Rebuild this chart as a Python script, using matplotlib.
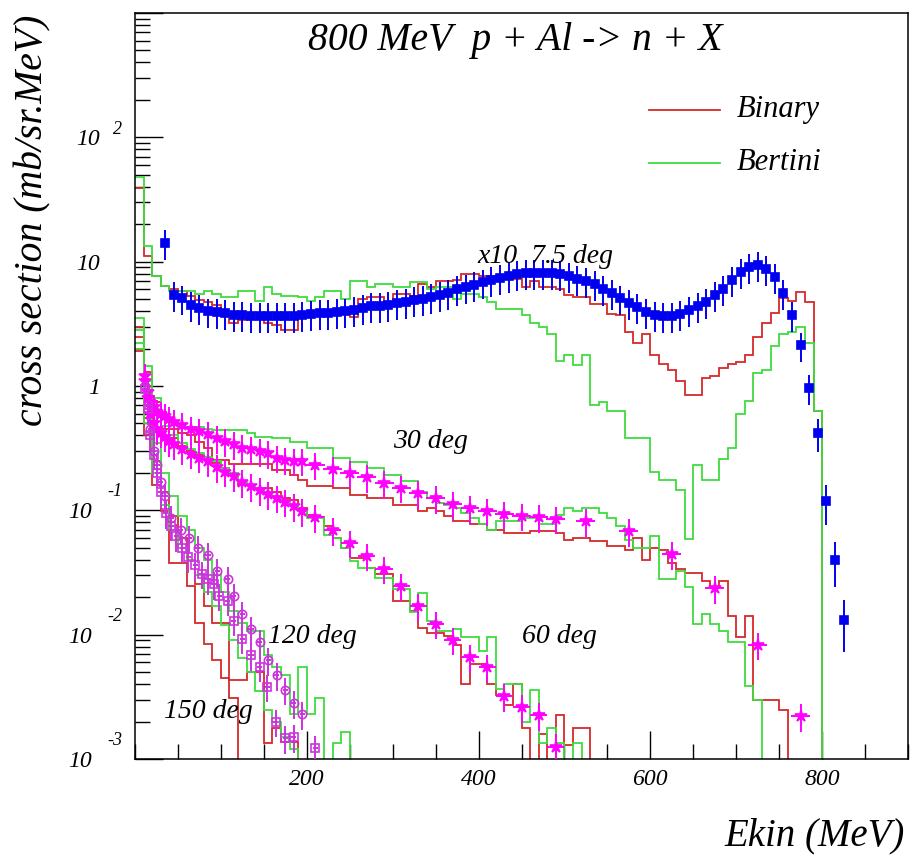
import numpy as np
import matplotlib.pyplot as plt
from matplotlib.ticker import FixedLocator, MultipleLocator, LogLocator, NullFormatter

plt.rcParams['font.family'] = ['Liberation Serif', 'DejaVu Serif']
plt.rcParams['font.style'] = 'italic'

RED = '#d42a2a'
GREEN = '#3fdc3f'
BLUE = '#0000f0'
MAGENTA = '#ff00ff'
VIOLET = '#cc33dd'

BIN = 10  # MeV, histogram bin width

# ---- 7.5 deg (scaled x10) ----
binary_7 = [39, 11.2, 7.7, 6.4, 6.0, 5.8, 5.3, 4.9, 4.7, 4.45,
            3.8, 3.2, 3.4, 3.45, 3.45, 3.2, 3.1, 2.8, 2.8, 3.6,
            3.8, 3.8, 3.8, 3.8, 4.2, 3.6, 5.0, 5.15, 5.15, 4.7,
            5.5, 5.5, 5.3, 6.6, 6.2, 7.0, 7.0, 7.1, 7.9, 7.9,
            7.6, 7.6, 7.6, 7.2, 7.2, 6.3, 7.0, 6.3, 6.3, 6.0,
            5.4, 5.15, 5.15, 4.6, 4.6, 3.8, 3.7, 2.7, 2.2, 2.6,
            1.77, 1.5, 1.35, 1.1, 0.85, 0.85, 1.17, 1.2, 1.4, 1.5,
            1.55, 1.77, 2.5, 3.2, 3.9, 5.1, 4.8, 5.7, 4.7, 0.63]
bertini_7 = [48, 13.4, 7.7, 6.4, 5.8, 5.8, 5.8, 5.5, 5.8, 5.5,
             5.15, 5.15, 5.8, 5.8, 4.8, 6.3, 5.5, 5.3, 5.3, 5.15,
             4.8, 5.15, 5.8, 5.8, 5.0, 7.0, 7.0, 6.2, 6.6, 6.6,
             6.2, 6.2, 6.8, 6.8, 6.0, 6.2, 6.2, 5.0, 5.5, 5.5,
             5.15, 4.7, 4.2, 4.2, 4.2, 3.7, 3.2, 3.0, 2.6, 1.6,
             1.77, 1.48, 1.77, 0.7, 0.74, 0.63, 0.63, 0.38, 0.38, 0.38,
             0.205, 0.177, 0.177, 0.147, 0.059, 0.233, 0.177, 0.177, 0.26, 0.32,
             0.6, 0.76, 1.28, 1.35, 2.1, 2.6, 2.7, 3.0, 2.2, 0.63]
e_7 = np.arange(35, 826, 10)
data_7 = [14.2, 5.37, 5.06, 4.5, 4.23, 3.98, 3.91, 3.85, 3.74, 3.72,
          3.63, 3.63, 3.63, 3.63, 3.63, 3.68, 3.72, 3.79, 3.85, 3.85,
          3.91, 3.98, 4.11, 4.25, 4.37, 4.42, 4.5, 4.64, 4.75, 4.93,
          4.98, 5.2, 5.37, 5.6, 6.0, 6.2, 6.47, 6.8, 7.13, 7.45,
          7.68, 7.92, 8.07, 8.07, 8.17, 8.07, 7.92, 7.68, 7.31, 7.0,
          6.59, 6.08, 5.58, 5.06, 4.64, 4.29, 3.96, 3.72, 3.63, 3.63,
          3.79, 4.11, 4.37, 4.75, 5.38, 6.08, 7.13, 8.27, 9.12, 9.35,
          8.79, 7.59, 5.58, 3.72, 2.12, 0.96, 0.42, 0.118, 0.040, 0.0132]

# ---- 30 deg ----
binary_30 = [3.0, 1.3, 0.75, 0.55, 0.45, 0.42, 0.40, 0.356, 0.315, 0.254,
             0.254, 0.235, 0.235, 0.235, 0.235, 0.235, 0.211, 0.211, 0.193, 0.176,
             0.156, 0.156, 0.156, 0.151, 0.151, 0.134, 0.134, 0.125, 0.125, 0.125,
             0.111, 0.111, 0.111, 0.098, 0.104, 0.098, 0.090, 0.082, 0.082, 0.077,
             0.077, 0.070, 0.070, 0.066, 0.066, 0.066, 0.068, 0.068, 0.068, 0.066,
             0.058, 0.060, 0.060, 0.0565, 0.0565, 0.0515, 0.0515, 0.048, 0.060, 0.040,
             0.050, 0.048, 0.038, 0.0335, 0.0315, 0.0315, 0.027, 0.024, 0.027, 0.0141,
             0.0096, 0.0141, 0.0030, 0.0030, 0.0030, 0.0025]
bertini_30 = [3.5, 1.45, 0.8, 0.6, 0.5, 0.47, 0.47, 0.47, 0.45, 0.44,
              0.44, 0.44, 0.44, 0.42, 0.39, 0.39, 0.38, 0.38, 0.356, 0.356,
              0.315, 0.315, 0.315, 0.262, 0.262, 0.247, 0.247, 0.218, 0.218, 0.193,
              0.193, 0.171, 0.171, 0.14, 0.125, 0.115, 0.11, 0.105, 0.095, 0.087,
              0.077, 0.07, 0.082, 0.082, 0.082, 0.087, 0.087, 0.077, 0.077, 0.092,
              0.104, 0.098, 0.104, 0.104, 0.095, 0.087, 0.075, 0.058, 0.05, 0.05,
              0.062, 0.028, 0.028, 0.0325, 0.024, 0.0122, 0.0147, 0.0122, 0.0108, 0.0087,
              0.0087, 0.0039, 0.003]
e_30 = [12, 15, 18, 22, 26, 30, 35, 40, 45,
        55, 65, 75, 85, 95, 105, 115, 125, 135, 145, 155, 165, 175, 185, 195,
        210, 230, 250, 270, 290, 310, 330, 350, 370, 390, 410, 430, 450, 470, 490,
        525, 575, 625, 675, 725, 775]
data_30 = [1.2, 0.9, 0.75, 0.68, 0.62, 0.6, 0.57, 0.54, 0.515,
           0.484, 0.45, 0.434, 0.41, 0.38, 0.36, 0.34, 0.32, 0.31, 0.30, 0.287, 0.265, 0.255, 0.25, 0.25,
           0.232, 0.215, 0.2, 0.184, 0.166, 0.152, 0.137, 0.125, 0.113, 0.104, 0.099, 0.094, 0.0906, 0.0884, 0.0858,
           0.0817, 0.068, 0.0445, 0.0236, 0.0083, 0.0022]

# ---- 60 deg ----
binary_60 = [2.5, 1.0, 0.6, 0.45, 0.38, 0.33, 0.30, 0.28, 0.26, 0.24,
             0.218, 0.2, 0.16, 0.16, 0.151, 0.151, 0.14, 0.125, 0.12, 0.104,
             0.092, 0.088, 0.0745, 0.06, 0.05, 0.0415, 0.0415, 0.0345, 0.0306, 0.0306,
             0.0187, 0.0187, 0.0156, 0.0114, 0.0104, 0.0104, 0.0098, 0.0082, 0.0040, 0.0058,
             0.0058, 0.0040, 0.0033, 0.0027, 0.0040, 0.00176, 0.0005, 0.0016, 0.0005, 0.00225,
             0.0013, 0.00176, 0.00176]
bertini_60 = [2.8, 1.1, 0.65, 0.48, 0.40, 0.35, 0.31, 0.29, 0.27, 0.25,
              0.22, 0.20, 0.17, 0.16, 0.15, 0.14, 0.13, 0.12, 0.11, 0.098,
              0.087, 0.087, 0.0637, 0.06, 0.05, 0.0392, 0.0345, 0.0345, 0.0287, 0.0287,
              0.0232, 0.0232, 0.0151, 0.0218, 0.0129, 0.0108, 0.0108, 0.0111, 0.0095, 0.0095,
              0.00745, 0.0095, 0.00368, 0.00404, 0.00404, 0.00199, 0.00356, 0.00134, 0.00176, 0.00134,
              0.0005, 0.00134, 0.0005]
e_60 = [12, 15, 18, 22, 26, 30, 35, 40, 45,
        55, 65, 75, 85, 95, 105, 115, 125, 135, 145, 155, 165, 175, 185, 195,
        210, 230, 250, 270, 290, 310, 330, 350, 370, 390, 410, 430, 450, 470, 490]
data_60 = [1.1, 0.8, 0.6, 0.5, 0.45, 0.42, 0.39, 0.36, 0.34,
           0.31, 0.285, 0.265, 0.248, 0.222, 0.205, 0.188, 0.168, 0.157, 0.145, 0.135, 0.126, 0.117, 0.108, 0.098,
           0.088, 0.069, 0.055, 0.043, 0.034, 0.0247, 0.0171, 0.0122, 0.0091, 0.0066, 0.0055, 0.0032, 0.0026,
           0.00225, 0.00126]

# ---- 120 deg ----
binary_120 = [2.0, 0.55, 0.25, 0.14, 0.09, 0.06, 0.04, 0.0254, 0.0171, 0.0125,
              0.0125, 0.0043, 0.0043, 0.005, 0.005, 0.00134, 0.00176, 0.00137, 0.00137]
bertini_120 = [2.2, 0.7, 0.35, 0.2, 0.13, 0.09, 0.07, 0.05, 0.04, 0.03,
               0.022, 0.0155, 0.0125, 0.0108, 0.0108, 0.0068, 0.0055, 0.0047, 0.00232, 0.0055,
               0.00232, 0.0031, 0.0005, 0.00134, 0.00164]
e_120 = [12, 15, 18, 22, 26, 30, 35, 42, 53, 63, 73, 85, 96, 108, 115, 125, 135, 145, 155, 165, 175, 185, 195]
data_120 = [1.0, 0.7, 0.45, 0.3, 0.23, 0.17, 0.13, 0.087, 0.07, 0.06, 0.05, 0.044, 0.0325, 0.028,
            0.0205, 0.0147, 0.0111, 0.0087, 0.0062, 0.0047, 0.0036, 0.0028, 0.0023]

# ---- 150 deg ----
binary_150 = [1.9, 0.4, 0.16, 0.098, 0.038, 0.038, 0.0247, 0.0125, 0.0084, 0.0063, 0.0045, 0.0031]
bertini_150 = [2.0, 0.5, 0.2, 0.11, 0.07, 0.05, 0.04, 0.03, 0.022, 0.017,
               0.012, 0.009, 0.0065, 0.005, 0.0035, 0.0025, 0.002, 0.0015, 0.0012]
e_150 = [12, 15, 18, 22, 26, 30, 36, 42, 48, 55, 62, 70, 78, 85, 92, 98, 108, 115, 125, 135, 145, 154, 164,
         175, 185, 210]
data_150 = [0.95, 0.65, 0.4, 0.28, 0.2, 0.14, 0.095, 0.075, 0.062, 0.05, 0.042, 0.036, 0.031, 0.028, 0.0254,
            0.0205, 0.0187, 0.0129, 0.0093, 0.0068, 0.0055, 0.0038, 0.002, 0.00147, 0.0015, 0.00122]


def hist(ax, vals, color):
    # add an empty bin so the last step drops down to the axis
    v = np.append(np.asarray(vals, dtype=float), 1e-7)
    edges = np.arange(len(v) + 1) * BIN
    ax.stairs(v, edges, color=color, lw=1.3, baseline=None, zorder=2)


def points(ax, e, v, rel, xerr, color, marker, ms, filled=True):
    e = np.asarray(e, dtype=float)
    v = np.asarray(v, dtype=float)
    ax.errorbar(e, v, yerr=v * rel, xerr=xerr, fmt=marker, ms=ms, color=color,
                mfc=color if filled else 'none', mec=color, mew=1.2,
                elinewidth=1.4, capsize=0, zorder=3)


fig = plt.figure(figsize=(9.1, 8.55), dpi=100)
ax = fig.add_axes([135 / 910, 96 / 855, 773 / 910, 746 / 855])

for b, g in [(binary_7, bertini_7), (binary_30, bertini_30), (binary_60, bertini_60),
             (binary_120, bertini_120), (binary_150, bertini_150)]:
    hist(ax, b, RED)
    hist(ax, g, GREEN)

rel_7 = np.full(len(e_7), 0.27)
rel_7[-4:] = [0.3, 0.35, 0.4, 0.45]
points(ax, e_7, data_7, rel_7, 4, BLUE, 's', 6)
points(ax, e_30, data_30, 0.25, np.where(np.array(e_30) > 200, 11, 4), MAGENTA, '*', 9)
points(ax, e_60, data_60, 0.25, np.where(np.array(e_60) > 200, 10, 4), MAGENTA, '*', 9)
points(ax, e_120, data_120, 0.25, 3, VIOLET, 'o', 6, filled=False)
points(ax, e_150, data_150, 0.25, 3, VIOLET, 's', 5.5, filled=False)

ax.set_yscale('log')
ax.set_xlim(0, 900)
ax.set_ylim(1e-3, 1e3)

# axis ticks, ROOT style (inside, left/bottom only)
ax.xaxis.set_major_locator(FixedLocator([200, 400, 600, 800]))
ax.xaxis.set_minor_locator(MultipleLocator(50))
ax.yaxis.set_major_locator(LogLocator(base=10, numticks=10))
ax.yaxis.set_minor_locator(LogLocator(base=10, subs=np.arange(2, 10), numticks=20))
ax.yaxis.set_major_formatter(NullFormatter())
ax.yaxis.set_minor_formatter(NullFormatter())
ax.tick_params(which='major', direction='in', length=20, width=1.0, top=False, right=False)
ax.tick_params(which='minor', direction='in', length=11, width=1.0, top=False, right=False)
ax.tick_params(axis='x', which='major', labelsize=17, pad=7)
for lab in ax.get_xticklabels():
    lab.set_fontstyle('italic')
for s in ax.spines.values():
    s.set_linewidth(1.1)

# y tick labels written as "10" with a raised exponent
ytr = ax.get_yaxis_transform()
for k in range(-3, 3):
    base = '1' if k == 0 else '10'
    bx = -0.0453 if k >= 0 else -0.0556
    ax.text(bx, 10 ** (k - 0.02), base, transform=ytr, ha='right', va='center', fontsize=17)
    if k not in (0, 1):
        raise_by = 0.065 if k > 0 else 0.15
        ax.text(-0.0168, 10 ** (k + raise_by), str(k), transform=ytr, ha='right', va='center', fontsize=13)

# curve labels
lab_kw = dict(fontsize=20, va='center', ha='left', zorder=4)
ax.text(399, 11, 'x10  7.5 deg', **lab_kw)
ax.text(301, 0.356, '30 deg', **lab_kw)
ax.text(451, 0.0096, '60 deg', **lab_kw)
ax.text(155, 0.0096, '120 deg', **lab_kw)
ax.text(34, 0.0024, '150 deg', **lab_kw)

# legend
ax.plot([0.665, 0.757], [0.870, 0.870], color=RED, lw=1.3, transform=ax.transAxes)
ax.plot([0.665, 0.757], [0.799, 0.799], color=GREEN, lw=1.3, transform=ax.transAxes)
ax.text(0.779, 0.870, 'Binary', transform=ax.transAxes, fontsize=22, va='center', ha='left')
ax.text(0.779, 0.799, 'Bertini', transform=ax.transAxes, fontsize=22, va='center', ha='left')

fig.text(515 / 910, 1 - 50 / 855, '800 MeV  p + Al -> n + X', ha='center', va='baseline', fontsize=28.5)
fig.text(905 / 910, 1 - 845 / 855, 'Ekin (MeV)', ha='right', va='baseline', fontsize=28)
fig.text(33 / 910, 1 - 15 / 855, 'cross section (mb/sr.MeV)', rotation=90, ha='center', va='top',
         fontsize=28.5)

fig.savefig('out.png', dpi=100)
